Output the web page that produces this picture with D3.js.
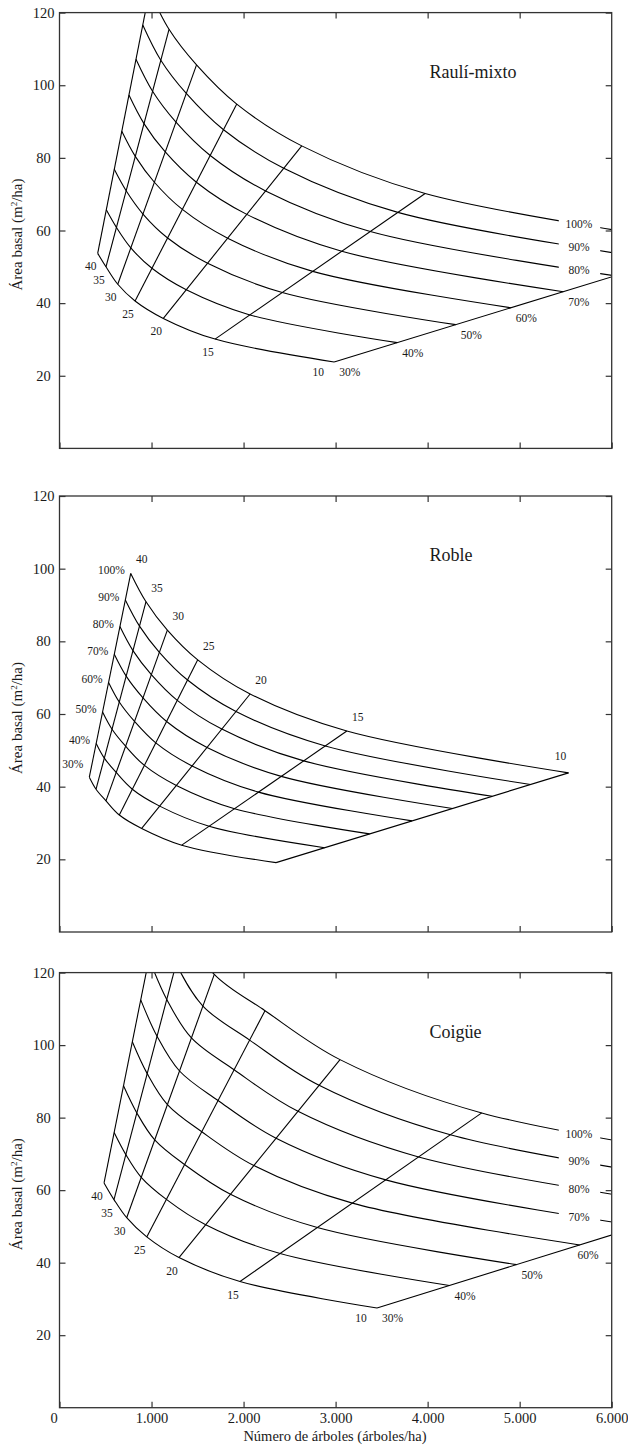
<!DOCTYPE html>
<html><head><meta charset="utf-8">
<script src="https://cdn.jsdelivr.net/npm/d3@7"></script>
<style>
body{margin:0;background:#fff}
svg{display:block}
text{font-family:"Liberation Serif","Times New Roman",Times,serif;fill:#1a1a1a}
</style>
</head><body>
<svg id="c" width="628" height="1445"></svg>
<script>
// ---- data ----
const heights = [10, 15, 20, 25, 30, 35, 40];           // dominant height lines (m)
const rdLevels = [30, 40, 50, 60, 70, 80, 90, 100];      // relative density curves (%)
const rdPos = [0, 0.166, 0.32, 0.465, 0.603, 0.739, 0.87, 1]; // position of each RD level along a height line
const yTicks = [20, 40, 60, 80, 100, 120];
const xTicks = [0, 1000, 2000, 3000, 4000, 5000, 6000];
const xTickLabels = ["0", "1.000", "2.000", "3.000", "4.000", "5.000", "6.000"];
const panelNames = ["Raulí-mixto", "Roble", "Coigüe"];

// Raulí-mixto: nodes at 30% (base) and 100% (top) for heights 10..40
const rauliBaseN = [2984, 1690, 1128, 821, 633, 505, 415];
const rauliBaseG = [23.8, 30.1, 35.8, 40.6, 45.2, 50.0, 53.7];
const rauliTopN  = [7114, 3973, 2632, 1926, 1489, 1190, 978];
const rauliTopG  = [55.9, 70.2, 83.3, 94.8, 105.6, 115.4, 126.0];

// Roble
const robleBaseN = [2353, 1328, 893, 650, 505, 397, 324];
const robleBaseG = [19.1, 23.9, 28.5, 32.2, 36.1, 39.3, 42.6];
const robleTopN  = [5531, 3122, 2071, 1502, 1172, 940, 774];
const robleTopG  = [43.8, 55.3, 65.5, 74.9, 83.1, 90.9, 98.7];

// Coigüe
const coigueBaseN = [3450, 1961, 1298, 948, 730, 592, 484];
const coigueBaseG = [27.5, 34.8, 41.4, 47.1, 52.4, 57.4, 62.0];
const coigueTopN  = [8188, 4588, 3048, 2233, 1682, 1368, 1145];
const coigueTopG  = [64.9, 81.3, 96.0, 109.5, 119.5, 132.1, 145.7];

// ---- drawing ----
const svg = d3.select("#c");
const x = d3.scaleLinear().domain([0, 6000]).range([59.5, 611.7]);
const FONT = '"Liberation Serif","Times New Roman",Times,serif';

const panels = [
  {name: panelNames[0], yr: [448.4, 12.6], bN: rauliBaseN, bG: rauliBaseG, tN: rauliTopN, tG: rauliTopG, mode: "bottom", xlab: false},
  {name: panelNames[1], yr: [932, 496], bN: robleBaseN, bG: robleBaseG, tN: robleTopN, tG: robleTopG, mode: "left", xlab: false},
  {name: panelNames[2], yr: [1407.7, 972.6], bN: coigueBaseN, bG: coigueBaseG, tN: coigueTopN, tG: coigueTopG, mode: "bottom", xlab: true}
];

function yAtX(pathNode, px) {
  const L = pathNode.getTotalLength();
  let lo = 0, hi = L;
  for (let k = 0; k < 40; k++) {
    const mid = (lo + hi) / 2;
    const p = pathNode.getPointAtLength(mid);
    if (p.x < px) lo = mid; else hi = mid;
  }
  return pathNode.getPointAtLength((lo + hi) / 2).y;
}

panels.forEach((p, pi) => {
  const y = d3.scaleLinear().domain([0, 120]).range(p.yr);
  const g = svg.append("g");
  const clipId = "clip" + pi;
  svg.append("clipPath").attr("id", clipId).append("rect")
    .attr("x", x(0)).attr("y", y(120))
    .attr("width", x(6000) - x(0)).attr("height", y(0) - y(120));

  const node = (i, j) => ({
    N: p.bN[i] + rdPos[j] * (p.tN[i] - p.bN[i]),
    G: p.bG[i] + rdPos[j] * (p.tG[i] - p.bG[i])
  });

  const plot = g.append("g").attr("clip-path", `url(#${clipId})`);
  const line = d3.line().x(d => x(d.N)).y(d => y(d.G)).curve(d3.curveCatmullRom.alpha(0.5));
  const straight = d3.line().x(d => x(d.N)).y(d => y(d.G));

  // relative density curves
  const curvePaths = rdLevels.map((rd, j) => {
    const pts = heights.map((h, i) => node(i, j)).reverse();
    return plot.append("path").attr("d", line(pts))
      .attr("fill", "none").attr("stroke", "#000").attr("stroke-width", 1.1).node();
  });
  // height lines
  heights.forEach((h, i) => {
    plot.append("path").attr("d", straight([node(i, 0), node(i, rdLevels.length - 1)]))
      .attr("fill", "none").attr("stroke", "#000").attr("stroke-width", 1.1);
  });

  // frame
  g.append("rect").attr("x", x(0)).attr("y", y(120))
    .attr("width", x(6000) - x(0)).attr("height", y(0) - y(120))
    .attr("fill", "none").attr("stroke", "#333").attr("stroke-width", 1.3);

  const styleAxis = sel => {
    sel.select(".domain").remove();
    sel.attr("font-family", FONT).attr("font-size", 14.5).attr("color", "#222");
    sel.selectAll("line").attr("stroke", "#333").attr("stroke-width", 1.2);
  };
  // left axis
  const la = g.append("g").attr("transform", `translate(${x(0)},0)`)
    .call(d3.axisLeft(y).tickValues(yTicks).tickSizeInner(-6).tickSizeOuter(0).tickPadding(4));
  styleAxis(la);
  la.selectAll("text").attr("text-anchor", "middle").attr("x", -16);
  // right axis
  const ra = g.append("g").attr("transform", `translate(${x(6000)},0)`)
    .call(d3.axisRight(y).tickValues(yTicks).tickSizeInner(-6).tickSizeOuter(0).tickFormat(() => ""));
  styleAxis(ra);
  // top axis
  const ta = g.append("g").attr("transform", `translate(0,${y(120)})`)
    .call(d3.axisTop(x).tickValues(xTicks.slice(1, 6)).tickSizeInner(-6).tickSizeOuter(0).tickFormat(() => ""));
  styleAxis(ta);
  // bottom axis
  const ba = g.append("g").attr("transform", `translate(0,${y(0)})`)
    .call(d3.axisBottom(x).tickValues(xTicks).tickSizeInner(-6).tickSizeOuter(0).tickPadding(5)
      .tickFormat((d, k) => p.xlab ? xTickLabels[k] : ""));
  styleAxis(ba);
  ba.selectAll("text").filter(d => d === 0).attr("dx", -6);

  // y-axis title
  const cy = (y(0) + y(120)) / 2 + 4;
  const yt = g.append("text").attr("transform", `translate(21.5,${cy}) rotate(-90)`)
    .attr("text-anchor", "middle").attr("font-size", 15);
  yt.append("tspan").text("Área basal (m");
  yt.append("tspan").attr("font-size", 9).attr("dy", -5).text("2");
  yt.append("tspan").attr("dy", 5).text("/ha)");

  // panel title
  g.append("text").attr("x", x(4020)).attr("y", y(102)).attr("font-size", 18).text(p.name);

  const lab = g.append("g").attr("font-size", 11.5);
  if (p.mode === "bottom") {
    // height labels below the 30% curve
    heights.forEach((h, i) => {
      const n = node(i, 0);
      lab.append("text").attr("text-anchor", "middle")
        .attr("x", x(n.N) + (i === 0 ? -16 : -7))
        .attr("y", y(n.G) + (i === 0 ? 10 : 13)).attr("dy", "0.35em").text(h);
    });
    // relative density labels
    rdLevels.forEach((rd, j) => {
      const e = node(0, j);
      if (e.N <= 6000) {
        lab.append("text").attr("text-anchor", "start")
          .attr("x", Math.min(x(e.N) + 5, x(5650) - 2)).attr("y", y(e.G) + 10).attr("dy", "0.35em").text(rd + "%");
      } else {
        const x0 = x(5425), x1 = x(5875), xc = x(5645);
        const y0 = yAtX(curvePaths[j], x0), y1 = yAtX(curvePaths[j], x1), yc = yAtX(curvePaths[j], xc);
        lab.append("rect").attr("x", x0).attr("y", Math.min(y0, y1) - 3)
          .attr("width", x1 - x0).attr("height", Math.abs(y1 - y0) + 6).attr("fill", "#fff");
        lab.append("text").attr("text-anchor", "middle")
          .attr("x", xc).attr("y", yc).attr("dy", "0.35em").text(rd + "%");
      }
    });
  } else {
    // relative density labels left of the 40 m line
    rdLevels.forEach((rd, j) => {
      const n = node(heights.length - 1, j);
      lab.append("text").attr("text-anchor", "end")
        .attr("x", x(n.N) - 6).attr("y", y(n.G) - (j === 0 ? 13 : 3)).attr("dy", "0.35em").text(rd + "%");
    });
    // height labels above the 100% curve
    heights.forEach((h, i) => {
      const n = node(i, rdLevels.length - 1);
      lab.append("text").attr("text-anchor", "middle")
        .attr("x", x(n.N) + (i === 0 ? -8 : 11))
        .attr("y", y(n.G) - (i === 0 ? 17 : 14)).attr("dy", "0.35em").text(h);
    });
  }
});

// x-axis title
svg.append("text").attr("x", 335).attr("y", 1441).attr("text-anchor", "middle")
  .attr("font-size", 14.5).text("Número de árboles (árboles/ha)");
</script>
</body></html>
